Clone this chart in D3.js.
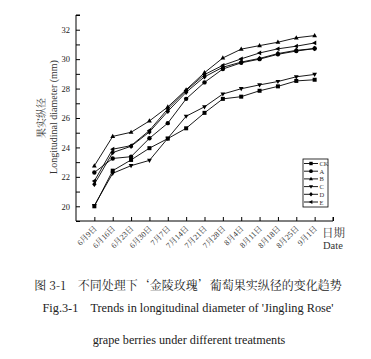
<!DOCTYPE html>
<html><head><meta charset="utf-8">
<script src="https://cdn.jsdelivr.net/npm/d3@7"></script>
<style>body{margin:0;background:#fff}</style>
</head><body>
<svg id="c" width="371" height="359"></svg>
<script>
const dates = ["6月9日","6月16日","6月23日","6月30日","7月7日","7月14日","7月21日","7月28日","8月4日","8月11日","8月18日","8月25日","9月1日"];
const seriesNames = ["CK","A","B","C","D","E"];
const CK = [20.0,22.42,23.15,23.95,24.6,25.3,26.35,27.3,27.45,27.85,28.15,28.52,28.6];
const A  = [22.3,23.25,23.37,24.62,25.65,27.3,28.42,29.33,29.75,30.0,30.33,30.55,30.72];
const B  = [22.75,24.75,25.03,25.8,26.75,27.92,29.08,30.08,30.68,30.92,31.15,31.45,31.6];
const C  = [20.05,22.24,22.76,23.12,24.62,26.12,26.76,27.63,27.99,28.25,28.48,28.8,28.96];
const D  = [21.5,23.65,24.08,25.05,26.45,27.75,28.8,29.45,29.8,30.05,30.38,30.6,30.72];
const E  = [21.72,23.88,24.12,25.15,26.62,27.87,28.95,29.58,30.02,30.42,30.7,30.88,31.1];
const yTicks = [20,22,24,26,28,30,32];
const values = {CK,A,B,C,D,E};

const svg = d3.select("#c");
const x = d3.scaleLinear().domain([-1,13]).range([76,333]);
const y = d3.scaleLinear().domain([19,33]).range([221,15]);
const serif = "'Liberation Serif','Times New Roman',serif";
const cjk = "'Liberation Serif','Noto Serif CJK SC','Noto Sans CJK SC',serif";
const cjkCap = "'Noto Serif CJK SC','Noto Sans CJK SC',serif";

// axes
const yAx = svg.append("g").attr("transform","translate(76,0)")
  .call(d3.axisRight(y).tickValues(d3.range(19,34,1)).tickSize(4).tickFormat(""));
yAx.select(".domain").attr("d","M4,15H0V221");
svg.append("g").attr("transform","translate(76,0)")
  .call(d3.axisLeft(y).tickValues(yTicks).tickSize(0).tickPadding(6))
  .call(s=>s.select(".domain").remove())
  .selectAll("text").attr("font-family",serif).attr("font-size",8.5).attr("fill","#222");
const xAx = svg.append("g").attr("transform","translate(0,221)")
  .call(d3.axisTop(x).tickValues(d3.range(0,14)).tickSize(4).tickFormat(""));
xAx.select(".domain").attr("d","M76,0H333V-4");
svg.selectAll(".tick line").attr("stroke","#000");
svg.selectAll(".domain").attr("stroke","#000");

// x tick labels
svg.append("g").selectAll("text").data(dates).join("text")
  .attr("transform",(d,i)=>`translate(${x(i)+3},${229}) rotate(-45)`)
  .attr("text-anchor","end").attr("font-family",cjk).attr("font-size",8).attr("fill","#333")
  .text(d=>d);

// axis titles
svg.append("text").attr("x",322).attr("y",237).attr("font-family",cjkCap).attr("font-size",11.5).attr("fill","#333").text("日期");
svg.append("text").attr("x",323).attr("y",249).attr("font-family",serif).attr("font-size",10.5).attr("fill","#333").text("Date");
svg.append("text").attr("transform","translate(45,118) rotate(-90)").attr("text-anchor","middle")
  .attr("font-family",cjkCap).attr("font-size",10).attr("fill","#333").text("果实纵径");
svg.append("text").attr("transform","translate(57,117) rotate(-90)").attr("text-anchor","middle")
  .attr("font-family",serif).attr("font-size",10).attr("fill","#333").text("Longitudinal diameter (mm)");

// markers
function marker(sel, name, s){
  const r = s;
  if(name==="CK") sel.append("rect").attr("x",-r).attr("y",-r).attr("width",2*r).attr("height",2*r);
  else if(name==="A") sel.append("circle").attr("r",r*1.1);
  else if(name==="B") sel.append("path").attr("d",`M0,${-r*1.3}L${r*1.2},${r*0.8}L${-r*1.2},${r*0.8}Z`);
  else if(name==="C") sel.append("path").attr("d",`M0,${r*1.3}L${r*1.2},${-r*0.8}L${-r*1.2},${-r*0.8}Z`);
  else if(name==="D") sel.append("path").attr("d",`M0,${-r*1.35}L${r*1.1},0L0,${r*1.35}L${-r*1.1},0Z`);
  else if(name==="E") sel.append("path").attr("d",`M${-r*1.3},0L${r*0.8},${-r*1.2}L${r*0.8},${r*1.2}Z`);
}
const line = d3.line().x((d,i)=>x(i)).y(d=>y(d));
seriesNames.forEach(n=>{
  svg.append("path").attr("d",line(values[n])).attr("fill","none").attr("stroke","#000").attr("stroke-width",0.9);
  svg.append("g").selectAll("g").data(values[n]).join("g")
    .attr("transform",(d,i)=>`translate(${x(i)},${y(d)})`).attr("fill","#000")
    .each(function(){marker(d3.select(this),n,2);});
});

// legend
const lg = svg.append("g");
lg.append("rect").attr("x",303).attr("y",159).attr("width",25).attr("height",48).attr("fill","#fff").attr("stroke","#000").attr("stroke-width",0.8);
seriesNames.forEach((n,i)=>{
  const yy = 163.5+i*7.7;
  lg.append("line").attr("x1",304).attr("x2",318).attr("y1",yy).attr("y2",yy).attr("stroke","#000").attr("stroke-width",0.9);
  const m = lg.append("g").attr("transform",`translate(311,${yy})`).attr("fill","#000");
  marker(m,n,1.7);
  lg.append("text").attr("x",319.5).attr("y",yy+2.5).attr("font-family",serif).attr("font-size",6.5).attr("fill","#333").text(n);
});

// captions
svg.append("text").attr("x",188).attr("y",290).attr("text-anchor","middle").attr("font-family",cjkCap).attr("font-size",12).attr("fill","#222")
  .text("图 3-1　不同处理下‘金陵玫瑰’葡萄果实纵径的变化趋势");
svg.append("text").attr("x",188).attr("y",312).attr("text-anchor","middle").attr("font-family",serif).attr("font-size",12.3).attr("fill","#222").attr("xml:space","preserve")
  .text("Fig.3-1    Trends in longitudinal diameter of 'Jingling Rose'");
svg.append("text").attr("x",189).attr("y",344).attr("text-anchor","middle").attr("font-family",serif).attr("font-size",12.2).attr("fill","#222")
  .text("grape berries under different treatments");
</script>
</body></html>
